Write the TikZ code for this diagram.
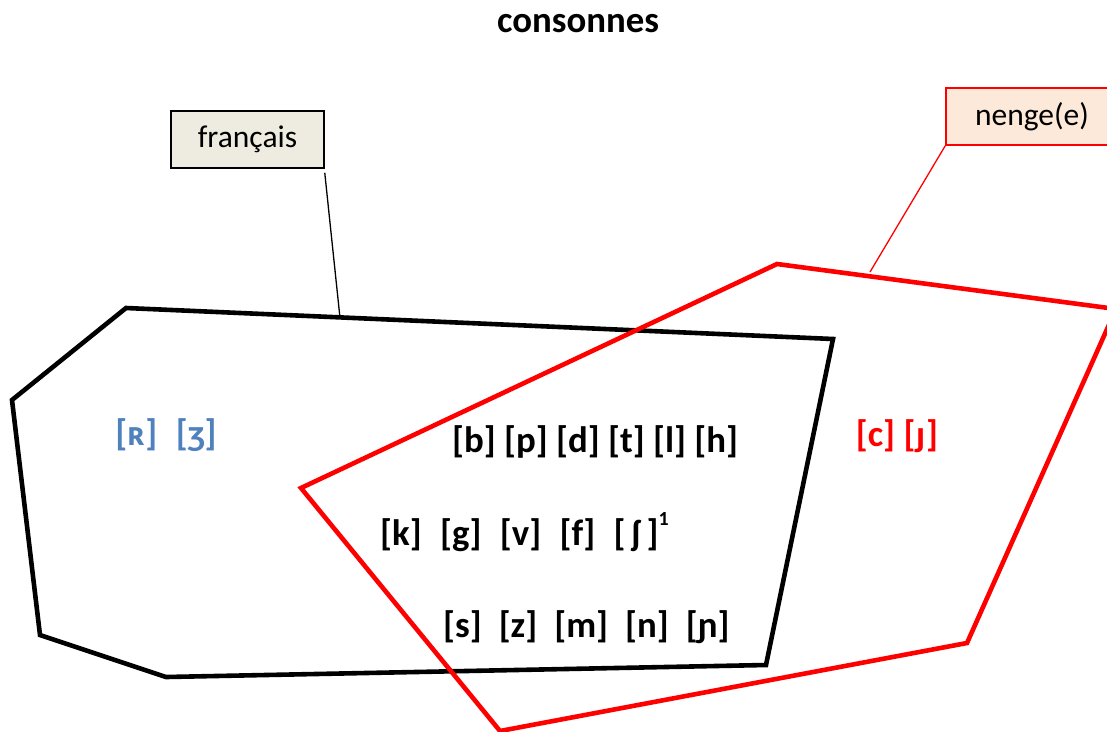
\documentclass[tikz,border=0pt]{standalone}
\usepackage{fontspec}
\setmainfont{Carlito}
\definecolor{ipablue}{HTML}{4F81BD}
\definecolor{frfill}{HTML}{EEECE1}
\definecolor{ngfill}{HTML}{FDE9D9}
\begin{document}
\begin{tikzpicture}[x=1pt,y=-1pt,
  poly/.style={line width=4.6pt,line join=miter},
  lbl/.style={inner sep=0pt,font=\fontsize{36.8}{42}\selectfont\bfseries},
  tagbox/.style={draw,line width=1.5pt,inner sep=0pt,minimum height=57pt,font=\fontsize{31.5}{36}\selectfont},
  conn/.style={line width=1.3pt}]
\useasboundingbox (0,0) rectangle (1107,731);
\clip (0,0) rectangle (1107,731);
% French polygon
\coordinate (f1) at (126,308);
\coordinate (f2) at (833,339);
\coordinate (f3) at (766,665);
\coordinate (f4) at (166,677);
\coordinate (f5) at (40,635);
\coordinate (f6) at (12,400);
\draw[poly,black] (f1) -- (f2) -- (f3) -- (f4) -- (f5) -- (f6) -- cycle;
% Nenge polygon
\coordinate (n1) at (777,264);
\coordinate (n2) at (1116,309);
\coordinate (n3) at (967,643);
\coordinate (n4) at (500,731);
\coordinate (n5) at (301,488);
\draw[poly,red] (n1) -- (n2) -- (n3) -- (n4) -- (n5) -- cycle;
% title
\node[lbl] (title) at (578,24) {consonnes};
% tag boxes
\node[tagbox,fill=frfill,draw=black,minimum width=153pt] (fr) at (247.5,139.5) {\raisebox{-2pt}{français}};
\node[tagbox,fill=ngfill,draw=red,minimum width=172pt] (ng) at (1032,116.5) {nenge(e)};
\coordinate (frend) at (340,318);
\coordinate (ngend) at (870,272);
\draw[conn,black] (fr.south east) ++(0,4) coordinate (frs) (frs) -- (frend);
\draw[conn,red] (ng.south west) -- (ngend);
% sound labels
\node[lbl,text=ipablue] (fronly) at (166,435) {[ʀ]\,\,\,[ʒ]};
\node[lbl,text=red] (ngonly) at (897,436) {[c] [ɟ]};
\node[lbl] (row1) at (595,442) {[b] [p] [d] [t] [l] [h]};
\node[lbl,anchor=west] (row2) at (380,532) {[k]\,\,\,[g]\,\,\,[v]\,\,\,[f]\,\,\,[\,ʃ\,]\raisebox{0.55em}{\fontsize{20}{24}\selectfont 1}};
\node[lbl,anchor=west] (row3) at (443,627) {[s]\hspace{17pt}[z]\hspace{17pt}[m]\hspace{17pt}[n]\hspace{17pt}[ɲ]};
\end{tikzpicture}
\end{document}
